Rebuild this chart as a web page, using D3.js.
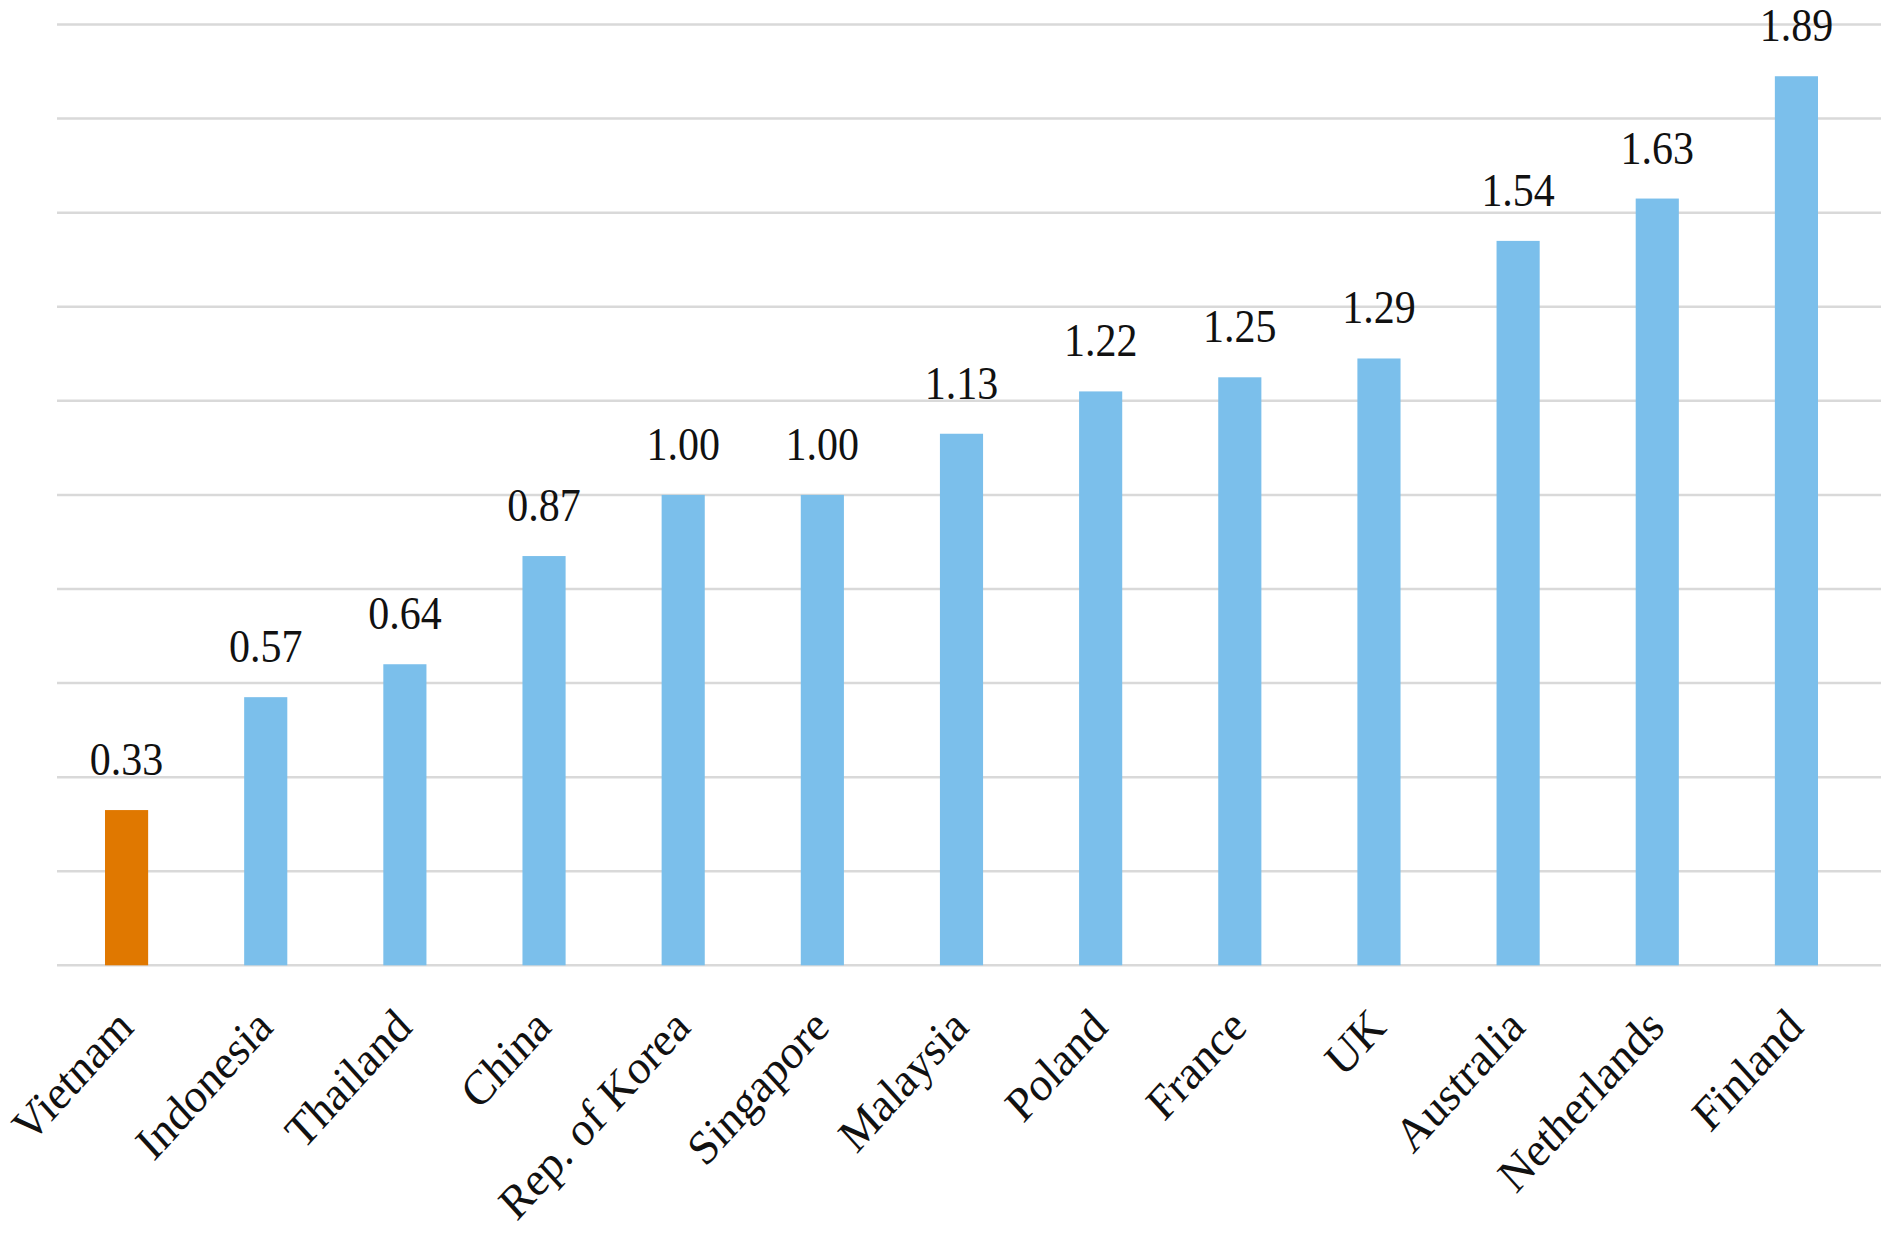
<!DOCTYPE html>
<html><head><meta charset="utf-8">
<script src="https://cdn.jsdelivr.net/npm/d3@7"></script>
<style>html,body{margin:0;padding:0;background:#fff;}svg{display:block;}</style>
</head><body>
<script>
const categories = ["Vietnam","Indonesia","Thailand","China","Rep. of Korea","Singapore","Malaysia","Poland","France","UK","Australia","Netherlands","Finland"];
const values = [0.33,0.57,0.64,0.87,1.00,1.00,1.13,1.22,1.25,1.29,1.54,1.63,1.89];
const valueLabels = ["0.33","0.57","0.64","0.87","1.00","1.00","1.13","1.22","1.25","1.29","1.54","1.63","1.89"];
const gridTicks = [0,0.2,0.4,0.6,0.8,1.0,1.2,1.4,1.6,1.8,2.0];
const highlight = "Vietnam";

const W = 1881, H = 1253;
const svg = d3.select("body").append("svg").attr("width", W).attr("height", H);

const x = d3.scaleBand().domain(categories).range([57, 1866]).paddingInner(0.69).paddingOuter(0.345);
const y = d3.scaleLinear().domain([0, 2.0]).range([965.3, 24.5]);

// gridlines
svg.append("g").selectAll("line").data(gridTicks).join("line")
  .attr("x1", 57).attr("x2", W)
  .attr("y1", d => y(d)).attr("y2", d => y(d))
  .attr("stroke", "#d9d9d9").attr("stroke-width", 2.5);

// bars
svg.append("g").selectAll("rect").data(categories).join("rect")
  .attr("x", d => x(d)).attr("width", x.bandwidth())
  .attr("y", (d,i) => y(values[i])).attr("height", (d,i) => y(0) - y(values[i]))
  .attr("fill", d => d === highlight ? "#e07800" : "#7bbfeb");

// value labels
svg.append("g").selectAll("text").data(categories).join("text")
  .attr("transform", (d,i) => `translate(${x(d) + x.bandwidth()/2},${y(values[i]) - 35}) scale(1,1.1)`)
  .attr("text-anchor", "middle")
  .attr("font-family", "'Liberation Serif', 'Times New Roman', serif")
  .attr("font-size", 42)
  .attr("fill", "#111")
  .text((d,i) => valueLabels[i]);

// category labels via axis
const xAxis = d3.axisBottom(x).tickSize(0).tickPadding(0);
const ax = svg.append("g").attr("transform", `translate(0,${y(0)})`).call(xAxis);
ax.select(".domain").remove();
ax.selectAll("text")
  .attr("font-family", "'Liberation Serif', 'Times New Roman', serif")
  .attr("font-size", 44)
  .attr("fill", "#111")
  .attr("text-anchor", "end")
  .attr("dy", null).attr("y", 0)
  .attr("transform", "translate(9,64) scale(1,1.1) rotate(-45)");
</script>
</body></html>
